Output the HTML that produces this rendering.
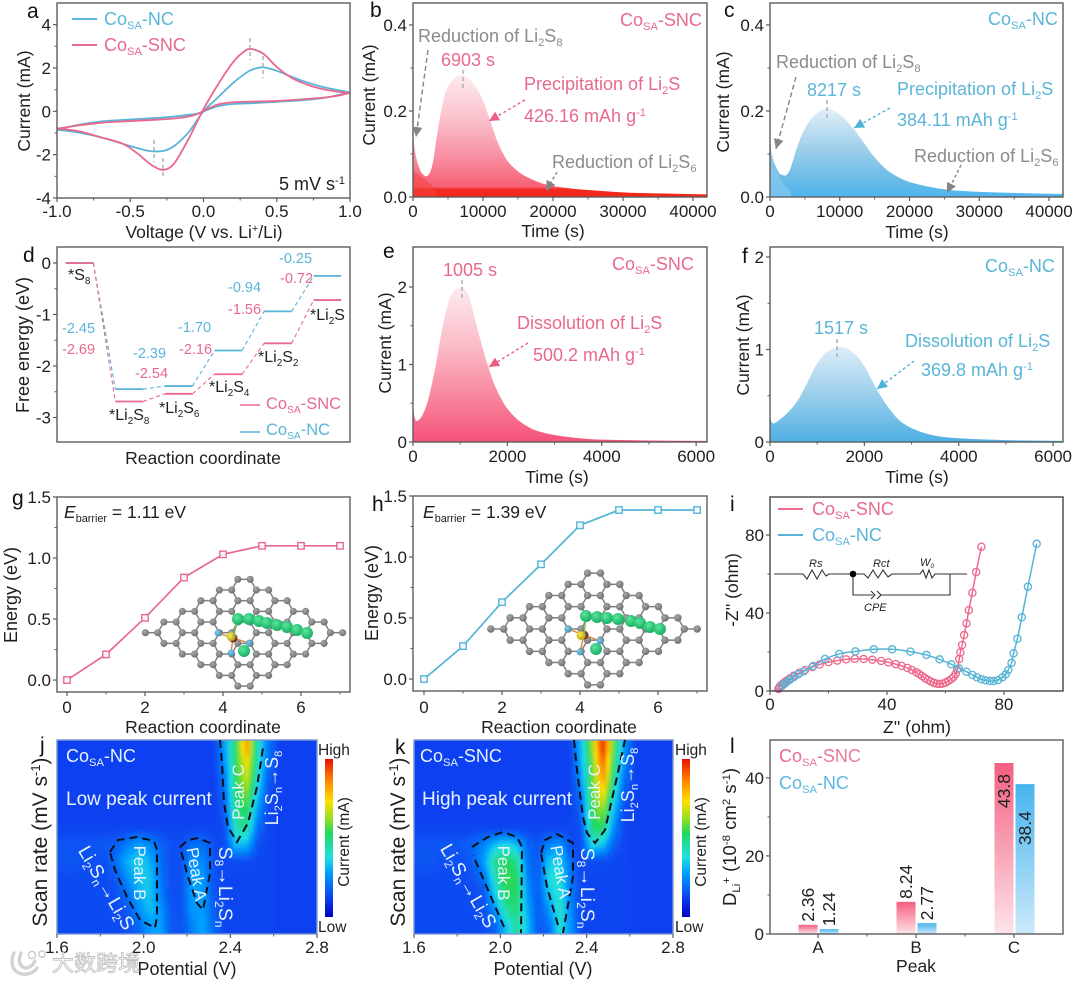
<!DOCTYPE html>
<html lang="en">
<head>
<meta charset="utf-8">
<title>Co single-atom catalysts electrochemistry figure</title>
<style>
html,body{margin:0;padding:0;background:#fff;}
svg{display:block;}
text{font-family:"Liberation Sans","Noto Sans CJK SC",sans-serif;fill:#1f1f1f;}
.sub{font-size:.62em;}
.sup{font-size:.62em;}
.pink{fill:#e8698c;}
.blue{fill:#5ab5d8;}
.grey{fill:#8b8b8b;}
.white{fill:#e6f2ff;}
.letter{font-size:21px;fill:#111;}
.title{font-size:17.5px;}
.val{font-size:14.5px;}
.spec{font-size:16px;fill:#222;}
</style>
</head>
<body>
<svg id="fig" width="1080" height="981" viewBox="0 0 1080 981" xmlns="http://www.w3.org/2000/svg">
<defs>
  <marker id="headGrey" markerUnits="userSpaceOnUse" markerWidth="12" markerHeight="12" refX="10" refY="5" orient="auto"><path d="M0,0L10,5L0,10Z" fill="#858585"/></marker>
  <marker id="headPink" markerUnits="userSpaceOnUse" markerWidth="12" markerHeight="12" refX="10" refY="5" orient="auto"><path d="M0,0L10,5L0,10Z" fill="#ea5f84"/></marker>
  <marker id="headBlue" markerUnits="userSpaceOnUse" markerWidth="12" markerHeight="12" refX="10" refY="5" orient="auto"><path d="M0,0L10,5L0,10Z" fill="#4fb3d6"/></marker>
  <linearGradient id="gradB" gradientUnits="userSpaceOnUse" x1="0" y1="74" x2="0" y2="197">
    <stop offset="0" stop-color="#fdecef"/><stop offset=".35" stop-color="#fbc3ce"/><stop offset=".7" stop-color="#f88a9e"/><stop offset=".92" stop-color="#f65f73"/><stop offset=".935" stop-color="#f32a1e"/><stop offset="1" stop-color="#f4261a"/>
  </linearGradient>
  <linearGradient id="gradC" gradientUnits="userSpaceOnUse" x1="0" y1="108" x2="0" y2="197">
    <stop offset="0" stop-color="#e3f1f8"/><stop offset=".4" stop-color="#a6d3ec"/><stop offset=".8" stop-color="#6bbbe6"/><stop offset="1" stop-color="#4fb5f0"/>
  </linearGradient>
  <linearGradient id="gradE" gradientUnits="userSpaceOnUse" x1="0" y1="287" x2="0" y2="442">
    <stop offset="0" stop-color="#fcebee"/><stop offset=".4" stop-color="#fbb9c6"/><stop offset=".75" stop-color="#f77f98"/><stop offset="1" stop-color="#f6527a"/>
  </linearGradient>
  <linearGradient id="gradF" gradientUnits="userSpaceOnUse" x1="0" y1="347" x2="0" y2="442">
    <stop offset="0" stop-color="#dceef8"/><stop offset=".45" stop-color="#a2d2ec"/><stop offset="1" stop-color="#4fb0e4"/>
  </linearGradient>
  <linearGradient id="barPink" x1="0" y1="0" x2="0" y2="1"><stop offset="0" stop-color="#f45f80"/><stop offset="1" stop-color="#fde4e9"/></linearGradient>
  <linearGradient id="barBlue" x1="0" y1="0" x2="0" y2="1"><stop offset="0" stop-color="#48b4ef"/><stop offset="1" stop-color="#cbe9fa"/></linearGradient>
  <linearGradient id="legendPink" x1="0" y1="0" x2="1" y2="1"><stop offset="0" stop-color="#ee5f83"/><stop offset="1" stop-color="#e98aa4"/></linearGradient>
  <linearGradient id="jet" x1="0" y1="0" x2="0" y2="1">
    <stop offset="0" stop-color="#e81000"/><stop offset=".13" stop-color="#ff8000"/><stop offset=".27" stop-color="#ffe000"/><stop offset=".38" stop-color="#90e020"/><stop offset=".47" stop-color="#20d860"/><stop offset=".62" stop-color="#20e0e0"/><stop offset=".72" stop-color="#00a0ff"/><stop offset=".88" stop-color="#0a40f0"/><stop offset="1" stop-color="#0000c0"/>
  </linearGradient>
  <radialGradient id="atomGrey" cx=".38" cy=".35" r=".75"><stop offset="0" stop-color="#a8a8a8"/><stop offset="1" stop-color="#676767"/></radialGradient>
  <radialGradient id="atomGreen" cx=".38" cy=".35" r=".75"><stop offset="0" stop-color="#5ae79a"/><stop offset="1" stop-color="#0fa65e"/></radialGradient>
  <radialGradient id="atomBlue" cx=".38" cy=".35" r=".75"><stop offset="0" stop-color="#86c6e6"/><stop offset="1" stop-color="#3d8fb8"/></radialGradient>
  <radialGradient id="atomYellow" cx=".38" cy=".35" r=".75"><stop offset="0" stop-color="#f5ea4a"/><stop offset="1" stop-color="#b8a010"/></radialGradient>
  <radialGradient id="atomCo" cx=".38" cy=".35" r=".75"><stop offset="0" stop-color="#b8603a"/><stop offset="1" stop-color="#6e2a18"/></radialGradient>
  <filter id="heatBlur" filterUnits="userSpaceOnUse" x="0" y="700" width="1080" height="281"><feGaussianBlur stdDeviation="1.6"/></filter>
  <clipPath id="clipJ"><rect x="57" y="740" width="260" height="194"/></clipPath>
  <clipPath id="clipK"><rect x="414" y="740" width="259" height="194"/></clipPath>
</defs>

<g id="marks"></g>
<g id="axesLayer"></g>

<g>
  <text class="letter" x="27" y="18">a</text>
  <text class="letter" x="370" y="17">b</text>
  <text class="letter" x="724" y="17">c</text>
  <text class="letter" x="23" y="262">d</text>
  <text class="letter" x="383" y="258">e</text>
  <text class="letter" x="742" y="263">f</text>
  <text class="letter" x="12" y="505">g</text>
  <text class="letter" x="372" y="511">h</text>
  <text class="letter" x="730" y="511">i</text>
  <text class="letter" x="40" y="752">j</text>
  <text class="letter" x="395" y="754">k</text>
  <text class="letter" x="730" y="753">l</text>
</g>

<g>
  <text class="title" text-anchor="middle" x="204" y="238">Voltage (V vs. Li<tspan class="sup" dy="-6">+</tspan><tspan dy="6">/Li)</tspan></text>
  <text class="title" text-anchor="middle" transform="rotate(-90 30 101)" x="30" y="101">Current (mA)</text>
  <text class="title" text-anchor="middle" x="553" y="237">Time (s)</text>
  <text class="title" text-anchor="middle" transform="rotate(-90 375 95)" x="375" y="95">Current (mA)</text>
  <text class="title" text-anchor="middle" x="917" y="238">Time (s)</text>
  <text class="title" text-anchor="middle" transform="rotate(-90 729 102)" x="729" y="102">Current (mA)</text>
  <text class="title" text-anchor="middle" x="203" y="464">Reaction coordinate</text>
  <text class="title" text-anchor="middle" font-size="18" style="font-size:18px" transform="rotate(-90 29 345)" x="29" y="345">Free energy (eV)</text>
  <text class="title" text-anchor="middle" x="557" y="483">Time (s)</text>
  <text class="title" text-anchor="middle" transform="rotate(-90 391 343)" x="391" y="343">Current (mA)</text>
  <text class="title" text-anchor="middle" x="917" y="483">Time (s)</text>
  <text class="title" text-anchor="middle" transform="rotate(-90 749 345)" x="749" y="345">Current (mA)</text>
  <text class="title" text-anchor="middle" x="203" y="733">Reaction coordinate</text>
  <text class="title" text-anchor="middle" style="font-size:18px" transform="rotate(-90 17 595)" x="17" y="595">Energy (eV)</text>
  <text class="title" text-anchor="middle" x="559" y="733">Reaction coordinate</text>
  <text class="title" text-anchor="middle" style="font-size:18px" transform="rotate(-90 378 593)" x="378" y="593">Energy (eV)</text>
  <text class="title" text-anchor="middle" x="917" y="733">Z'' (ohm)</text>
  <text class="title" text-anchor="middle" transform="rotate(-90 738 590)" x="738" y="590">-Z'' (ohm)</text>
  <text class="title" text-anchor="middle" style="font-size:18px" x="187" y="975">Potential (V)</text>
  <text class="title" text-anchor="middle" style="font-size:21px" transform="rotate(-90 47 842)" x="47" y="842">Scan rate (mV s<tspan class="sup" dy="-7">-1</tspan><tspan dy="7">)</tspan></text>
  <text class="title" text-anchor="middle" style="font-size:18px" x="543" y="975">Potential (V)</text>
  <text class="title" text-anchor="middle" style="font-size:21px" transform="rotate(-90 405 842)" x="405" y="842">Scan rate (mV s<tspan class="sup" dy="-7">-1</tspan><tspan dy="7">)</tspan></text>
  <text class="title" text-anchor="middle" x="916" y="972">Peak</text>
  <text class="title" text-anchor="middle" style="font-size:18.5px" transform="rotate(-90 736 837)" x="736" y="837">D<tspan class="sub" dy="4">Li</tspan><tspan class="sup" dy="-10">+</tspan><tspan dy="6"> (10</tspan><tspan class="sup" dy="-6">-8</tspan><tspan dy="6"> cm</tspan><tspan class="sup" dy="-6">2</tspan><tspan dy="6"> s</tspan><tspan class="sup" dy="-6">-1</tspan><tspan dy="6">)</tspan></text>
</g>

<!-- panel a annotations -->
<g>
  <line x1="72" y1="19" x2="97" y2="19" stroke="#58b4d8" stroke-width="2"/>
  <text x="104" y="25" font-size="18" class="blue">Co<tspan class="sub" dy="4">SA</tspan><tspan dy="-4">-NC</tspan></text>
  <line x1="72" y1="45" x2="97" y2="45" stroke="#e8698c" stroke-width="2"/>
  <text x="104" y="51" font-size="18" class="pink">Co<tspan class="sub" dy="4">SA</tspan><tspan dy="-4">-SNC</tspan></text>
  <text x="279" y="190" font-size="18">5 mV s<tspan class="sup" dy="-6">-1</tspan></text>
  <g stroke="#ababab" stroke-width="1.4" stroke-dasharray="4 3" fill="none">
    <line x1="250" y1="38" x2="250" y2="60"/>
    <line x1="263" y1="56" x2="263" y2="78"/>
    <line x1="154" y1="140" x2="154" y2="162"/>
    <line x1="163" y1="158" x2="163" y2="178"/>
  </g>
</g>

<!-- panel b annotations -->
<g>
  <text x="620" y="26" font-size="18" class="pink">Co<tspan class="sub" dy="4">SA</tspan><tspan dy="-4">-SNC</tspan></text>
  <text x="418" y="42" font-size="18" class="grey">Reduction of Li<tspan class="sub" dy="4">2</tspan><tspan dy="-4">S</tspan><tspan class="sub" dy="4">8</tspan></text>
  <text x="441" y="66" font-size="18" class="pink">6903 s</text>
  <text x="524" y="90" font-size="18" class="pink">Precipitation of Li<tspan class="sub" dy="4">2</tspan><tspan dy="-4">S</tspan></text>
  <text x="524" y="122" font-size="18" class="pink">426.16 mAh g<tspan class="sup" dy="-6">-1</tspan></text>
  <text x="552" y="168" font-size="18" class="grey">Reduction of Li<tspan class="sub" dy="4">2</tspan><tspan dy="-4">S</tspan><tspan class="sub" dy="4">6</tspan></text>
  <line x1="428" y1="50" x2="416" y2="137" stroke="#858585" stroke-width="1.4" stroke-dasharray="5 3" marker-end="url(#headGrey)"/>
  <line x1="525" y1="100" x2="489" y2="121" stroke="#ea5f84" stroke-width="1.4" stroke-dasharray="3 2.5" marker-end="url(#headPink)"/>
  <line x1="557" y1="172" x2="546" y2="191" stroke="#858585" stroke-width="1.4" stroke-dasharray="3 2.5" marker-end="url(#headGrey)"/>
  <line x1="463" y1="70" x2="463" y2="90" stroke="#ababab" stroke-width="1.4" stroke-dasharray="4 3"/>
</g>

<!-- panel c annotations -->
<g>
  <text x="988" y="25" font-size="18" class="blue">Co<tspan class="sub" dy="4">SA</tspan><tspan dy="-4">-NC</tspan></text>
  <text x="776" y="68" font-size="18" class="grey">Reduction of Li<tspan class="sub" dy="4">2</tspan><tspan dy="-4">S</tspan><tspan class="sub" dy="4">8</tspan></text>
  <text x="807" y="96" font-size="18" class="blue">8217 s</text>
  <text x="897" y="95" font-size="18" class="blue">Precipitation of Li<tspan class="sub" dy="4">2</tspan><tspan dy="-4">S</tspan></text>
  <text x="897" y="126" font-size="18" class="blue">384.11 mAh g<tspan class="sup" dy="-6">-1</tspan></text>
  <text x="914" y="162" font-size="18" class="grey">Reduction of Li<tspan class="sub" dy="4">2</tspan><tspan dy="-4">S</tspan><tspan class="sub" dy="4">6</tspan></text>
  <line x1="796" y1="77" x2="776" y2="149" stroke="#858585" stroke-width="1.4" stroke-dasharray="5 3" marker-end="url(#headGrey)"/>
  <line x1="890" y1="108" x2="854" y2="128" stroke="#4fb3d6" stroke-width="1.4" stroke-dasharray="3 2.5" marker-end="url(#headBlue)"/>
  <line x1="961" y1="165" x2="947" y2="193" stroke="#858585" stroke-width="1.4" stroke-dasharray="3 2.5" marker-end="url(#headGrey)"/>
  <line x1="827" y1="100" x2="827" y2="120" stroke="#ababab" stroke-width="1.4" stroke-dasharray="4 3"/>
</g>

<!-- panel d annotations -->
<g>
  <text x="62" y="333" class="blue" font-size="14.5">-2.45</text>
  <text x="62" y="354" class="pink" font-size="14.5">-2.69</text>
  <text x="133" y="358" class="blue" font-size="14.5">-2.39</text>
  <text x="135" y="378" class="pink" font-size="14.5">-2.54</text>
  <text x="178" y="332" class="blue" font-size="14.5">-1.70</text>
  <text x="179" y="354" class="pink" font-size="14.5">-2.16</text>
  <text x="228" y="292" class="blue" font-size="14.5">-0.94</text>
  <text x="228" y="314" class="pink" font-size="14.5">-1.56</text>
  <text x="279" y="263" class="blue" font-size="14.5">-0.25</text>
  <text x="280" y="283" class="pink" font-size="14.5">-0.72</text>
  <text x="68" y="280" class="spec">*S<tspan class="sub" dy="4">8</tspan></text>
  <text x="109" y="420" class="spec">*Li<tspan class="sub" dy="4">2</tspan><tspan dy="-4">S</tspan><tspan class="sub" dy="4">8</tspan></text>
  <text x="159" y="413" class="spec">*Li<tspan class="sub" dy="4">2</tspan><tspan dy="-4">S</tspan><tspan class="sub" dy="4">6</tspan></text>
  <text x="209" y="392" class="spec">*Li<tspan class="sub" dy="4">2</tspan><tspan dy="-4">S</tspan><tspan class="sub" dy="4">4</tspan></text>
  <text x="258" y="362" class="spec">*Li<tspan class="sub" dy="4">2</tspan><tspan dy="-4">S</tspan><tspan class="sub" dy="4">2</tspan></text>
  <text x="310" y="320" class="spec">*Li<tspan class="sub" dy="4">2</tspan><tspan dy="-4">S</tspan></text>
  <line x1="240" y1="405" x2="260" y2="405" stroke="#e8698c" stroke-width="1.6"/>
  <text x="266" y="409" font-size="16.5" class="pink">Co<tspan class="sub" dy="4">SA</tspan><tspan dy="-4">-SNC</tspan></text>
  <line x1="240" y1="432" x2="260" y2="432" stroke="#58b4d8" stroke-width="1.6"/>
  <text x="266" y="435" font-size="16.5" class="blue">Co<tspan class="sub" dy="4">SA</tspan><tspan dy="-4">-NC</tspan></text>
</g>

<!-- panel e annotations -->
<g>
  <text x="612" y="270" font-size="18" class="pink">Co<tspan class="sub" dy="4">SA</tspan><tspan dy="-4">-SNC</tspan></text>
  <text x="443" y="276" font-size="18" class="pink">1005 s</text>
  <text x="517" y="329" font-size="18" class="pink">Dissolution of Li<tspan class="sub" dy="4">2</tspan><tspan dy="-4">S</tspan></text>
  <text x="533" y="361" font-size="18" class="pink">500.2 mAh g<tspan class="sup" dy="-6">-1</tspan></text>
  <line x1="528" y1="343" x2="489" y2="367" stroke="#ea5f84" stroke-width="1.4" stroke-dasharray="3 2.5" marker-end="url(#headPink)"/>
  <line x1="462" y1="280" x2="462" y2="300" stroke="#ababab" stroke-width="1.4" stroke-dasharray="4 3"/>
</g>

<!-- panel f annotations -->
<g>
  <text x="985" y="272" font-size="18" class="blue">Co<tspan class="sub" dy="4">SA</tspan><tspan dy="-4">-NC</tspan></text>
  <text x="814" y="334" font-size="18" class="blue">1517 s</text>
  <text x="905" y="347" font-size="18" class="blue">Dissolution of Li<tspan class="sub" dy="4">2</tspan><tspan dy="-4">S</tspan></text>
  <text x="921" y="376" font-size="18" class="blue">369.8 mAh g<tspan class="sup" dy="-6">-1</tspan></text>
  <line x1="914" y1="361" x2="877" y2="389" stroke="#4fb3d6" stroke-width="1.4" stroke-dasharray="3 2.5" marker-end="url(#headBlue)"/>
  <line x1="837" y1="339" x2="837" y2="359" stroke="#ababab" stroke-width="1.4" stroke-dasharray="4 3"/>
</g>

<!-- panel g h labels -->
<text x="64" y="518" font-size="17.5"><tspan font-style="italic">E</tspan><tspan class="sub" dy="4">barrier</tspan><tspan dy="-4"> = 1.11 eV</tspan></text>
<text x="423" y="518" font-size="17.5"><tspan font-style="italic">E</tspan><tspan class="sub" dy="4">barrier</tspan><tspan dy="-4"> = 1.39 eV</tspan></text>

<!-- panel i annotations -->
<g>
  <line x1="778" y1="509" x2="803" y2="509" stroke="#ee6a8c" stroke-width="2"/>
  <text x="812" y="515" font-size="18" class="pink">Co<tspan class="sub" dy="4">SA</tspan><tspan dy="-4">-SNC</tspan></text>
  <line x1="778" y1="535" x2="803" y2="535" stroke="#55b4d8" stroke-width="2"/>
  <text x="812" y="541" font-size="18" class="blue">Co<tspan class="sub" dy="4">SA</tspan><tspan dy="-4">-NC</tspan></text>
  <g fill="none" stroke="#333" stroke-width="1.1">
    <polyline points="774,574 803,574 807,579 812,570 817,579 822,570 826,576 829,574 864,574"/>
    <polyline points="864,574 868,578 873,570 878,578 883,570 888,577 892,574 920,574"/>
    <polyline points="920,574 923,570 926,578 929,570 932,578 935,574 967,574"/>
    <polyline points="853,574 853,595 873,595"/>
    <polyline points="880,595 950,595 950,574"/>
    <polyline points="871,591 875,595 871,599"/>
    <polyline points="877,591 881,595 877,599"/>
    <circle cx="853" cy="574" r="3.3" fill="#000" stroke="none"/>
  </g>
  <text x="809" y="567" font-size="11" font-style="italic">Rs</text>
  <text x="873" y="567" font-size="11" font-style="italic">Rct</text>
  <text x="920" y="566" font-size="11" font-style="italic">W<tspan class="sub" dy="2">0</tspan></text>
  <text x="864" y="611" font-size="11" font-style="italic">CPE</text>
</g>

<!-- heatmap overlays j -->
<g>
  <text x="66" y="762" font-size="18" class="white">Co<tspan class="sub" dy="4">SA</tspan><tspan dy="-4">-NC</tspan></text>
  <text x="66" y="805" font-size="19" class="white">Low peak current</text>
  <g fill="none" stroke="#0a0f1e" stroke-width="2" stroke-dasharray="8 5">
    <path d="M220,740L222,763L224,803L228,827L237,842L248,823L257,787L263,748"/>
    <path d="M110,852L118,840L137,837L154,841L157,850L157,917L155,928L140,920L127,897L115,870Z"/>
    <path d="M180,847L188,840L198,838L210,843L210,873L203,910L197,903L188,877Z"/>
  </g>
  <text class="white" font-size="17" text-anchor="middle" transform="rotate(-90 244 792)" x="244" y="792">Peak C</text>
  <text class="white" font-size="18" text-anchor="middle" transform="rotate(-90 278 788)" x="278" y="788">Li<tspan class="sub" dy="4">2</tspan><tspan dy="-4">S</tspan><tspan class="sub" dy="4">n</tspan><tspan dy="-4">→S</tspan><tspan class="sub" dy="4">8</tspan></text>
  <text class="white" font-size="17" text-anchor="middle" transform="rotate(90 134 873)" x="134" y="873">Peak B</text>
  <text class="white" font-size="17" text-anchor="middle" transform="rotate(80 191 875)" x="191" y="875">Peak A</text>
  <text class="white" font-size="19" text-anchor="middle" transform="rotate(60 101 891)" x="101" y="891">Li<tspan class="sub" dy="4">2</tspan><tspan dy="-4">S</tspan><tspan class="sub" dy="4">n</tspan><tspan dy="-4">→Li</tspan><tspan class="sub" dy="4">2</tspan><tspan dy="-4">S</tspan></text>
  <text class="white" font-size="19.5" text-anchor="middle" transform="rotate(90 219 887)" x="219" y="887">S<tspan class="sub" dy="4">8</tspan><tspan dy="-4">→Li</tspan><tspan class="sub" dy="4">2</tspan><tspan dy="-4">S</tspan><tspan class="sub" dy="4">n</tspan></text>
  <rect x="325" y="759" width="8" height="158" fill="url(#jet)"/>
  <text x="318" y="755" font-size="15.5">High</text>
  <text x="318" y="932" font-size="15.5">Low</text>
  <text text-anchor="middle" font-size="15.5" transform="rotate(-90 349 842)" x="349" y="842">Current (mA)</text>
</g>

<!-- heatmap overlays k -->
<g>
  <text x="420" y="762" font-size="18" class="white">Co<tspan class="sub" dy="4">SA</tspan><tspan dy="-4">-SNC</tspan></text>
  <text x="422" y="805" font-size="19" class="white">High peak current</text>
  <g fill="none" stroke="#0a0f1e" stroke-width="2" stroke-dasharray="8 5">
    <path d="M574,740L577,770L583,817L587,833L595,843L605,830L617,777L625,740"/>
    <path d="M472,847L488,837L503,832L517,837L522,847L521,933M504,927L488,890L473,855"/>
    <path d="M541,853L545,840L557,834L573,843L573,877L563,933M558,925L547,887L541,853"/>
  </g>
  <text class="white" font-size="17" text-anchor="middle" transform="rotate(-90 600 792)" x="600" y="792">Peak C</text>
  <text class="white" font-size="18" text-anchor="middle" transform="rotate(-90 634 785)" x="634" y="785">Li<tspan class="sub" dy="4">2</tspan><tspan dy="-4">S</tspan><tspan class="sub" dy="4">n</tspan><tspan dy="-4">→S</tspan><tspan class="sub" dy="4">8</tspan></text>
  <text class="white" font-size="17" text-anchor="middle" transform="rotate(90 498 873)" x="498" y="873">Peak B</text>
  <text class="white" font-size="17" text-anchor="middle" transform="rotate(80 555 873)" x="555" y="873">Peak A</text>
  <text class="white" font-size="19" text-anchor="middle" transform="rotate(60 463 889)" x="463" y="889">Li<tspan class="sub" dy="4">2</tspan><tspan dy="-4">S</tspan><tspan class="sub" dy="4">n</tspan><tspan dy="-4">→Li</tspan><tspan class="sub" dy="4">2</tspan><tspan dy="-4">S</tspan></text>
  <text class="white" font-size="19.5" text-anchor="middle" transform="rotate(90 581 888)" x="581" y="888">S<tspan class="sub" dy="4">8</tspan><tspan dy="-4">→Li</tspan><tspan class="sub" dy="4">2</tspan><tspan dy="-4">S</tspan><tspan class="sub" dy="4">n</tspan></text>
  <rect x="682" y="759" width="8" height="158" fill="url(#jet)"/>
  <text x="675" y="755" font-size="15.5">High</text>
  <text x="675" y="932" font-size="15.5">Low</text>
  <text text-anchor="middle" font-size="15.5" transform="rotate(-90 706 842)" x="706" y="842">Current (mA)</text>
</g>

<!-- panel l legend -->
<text x="779" y="762" font-size="18" style="fill:url(#legendPink)">Co<tspan class="sub" dy="4">SA</tspan><tspan dy="-4">-SNC</tspan></text>
<text x="779" y="789" font-size="18" style="fill:#5ab8e2">Co<tspan class="sub" dy="4">SA</tspan><tspan dy="-4">-NC</tspan></text>

<g id="valueLabels"></g>

<!-- watermark -->
<g opacity=".92">
  <path d="M14,953 C10,962 12,972 22,974 C29,975 34,972 37,968 M21,953 C18,960 19,966 25,968 C30,968 33,965 35,961" fill="none" stroke="#cfcfcf" stroke-width="3.4" stroke-linecap="round"/>
  <circle cx="32" cy="955" r="3.6" fill="#fff" stroke="#c4c4c4" stroke-width="1.3"/>
  <circle cx="42" cy="954" r="3.2" fill="#fff" stroke="#c4c4c4" stroke-width="1.3"/>
  <text x="52" y="971" font-size="22" style="fill:#fff;stroke:#bdbdbd;stroke-width:.9;font-family:'Liberation Sans','Noto Sans CJK SC',sans-serif">大数跨境</text>
</g>
</svg>

<script>
/* ---------- chart data ---------- */
const cvVoltageForward = [-1,-0.85,-0.7,-0.55,-0.45,-0.38,-0.33,-0.27,-0.2,-0.1,0,0.1,0.2,0.28,0.33,0.41,0.5,0.6,0.7,0.8,0.9,1];
const cvSncForward = [-0.8,-0.92,-1.2,-1.5,-1.95,-2.35,-2.58,-2.7,-2.4,-1.25,0.1,1.25,2.25,2.78,2.87,2.65,2.05,1.55,1.25,1.05,0.92,0.85];
const cvNcForward = [-0.85,-0.98,-1.2,-1.5,-1.7,-1.82,-1.85,-1.82,-1.6,-0.95,0,0.65,1.3,1.72,1.92,2.03,1.87,1.6,1.35,1.15,1,0.88];
const cvVoltageReturn = [1,0.9,0.8,0.65,0.5,0.35,0.2,0.1,0.04,-0.04,-0.1,-0.2,-0.3,-0.5,-0.7,-0.85,-1];
const cvSncReturn = [0.85,0.7,0.62,0.54,0.48,0.45,0.42,0.32,0.15,-0.12,-0.24,-0.33,-0.38,-0.45,-0.53,-0.65,-0.8];
const cvNcReturn = [0.88,0.72,0.6,0.5,0.44,0.38,0.34,0.24,0.1,-0.1,-0.16,-0.24,-0.3,-0.38,-0.47,-0.62,-0.85];

const precipTimeSnc = [0,150,400,800,1300,1900,2400,2900,3300,3800,4300,4800,5500,6200,6903,7700,8600,9300,10000,11000,12400,13800,16200,19500,23000,27000,31000,36000,42000];
const precipCurrentSnc = [0.158,0.125,0.096,0.072,0.055,0.048,0.056,0.085,0.13,0.18,0.222,0.25,0.27,0.28,0.283,0.278,0.264,0.247,0.225,0.178,0.116,0.078,0.047,0.027,0.019,0.014,0.01,0.008,0.006];
const decayTimeSnc = [0,800,1600,2600,3300];
const decayCurrentSnc = [0.06,0.052,0.042,0.028,0.02];
const precipTimeNc = [0,200,500,1000,1500,2200,2700,3200,3800,4500,5300,6200,7200,8217,9300,10500,12000,13500,15000,17000,20000,25500,30000,36000,42000];
const precipCurrentNc = [0.128,0.105,0.085,0.065,0.053,0.05,0.058,0.08,0.112,0.142,0.168,0.187,0.2,0.206,0.2,0.185,0.158,0.125,0.092,0.06,0.035,0.017,0.012,0.009,0.007];
const decayTimeNc = [0,1000,2000,3000];
const decayCurrentNc = [0.075,0.055,0.03,0.012];

const dissolveTimeSnc = [0,30,70,150,300,400,500,600,700,800,900,1005,1150,1250,1400,1500,1600,1700,1800,2000,2300,2600,3000,3500,4000,5000,6230];
const dissolveCurrentSnc = [0.5,0.33,0.27,0.3,0.5,0.75,1.05,1.4,1.68,1.88,1.97,2,1.93,1.74,1.38,1.16,0.96,0.78,0.64,0.43,0.25,0.15,0.09,0.05,0.03,0.02,0.015];
const dissolveTimeNc = [0,30,70,200,400,600,800,1000,1200,1400,1517,1800,2000,2260,2500,2800,3200,3600,4000,5000,6210];
const dissolveCurrentNc = [0.28,0.22,0.2,0.24,0.33,0.46,0.65,0.85,0.97,1.02,1.03,0.95,0.82,0.57,0.38,0.21,0.11,0.06,0.04,0.02,0.012];

const energyStepsSnc = [0,-2.69,-2.54,-2.16,-1.56,-0.72];
const energyStepsNc = [0,-2.45,-2.39,-1.70,-0.94,-0.25];

const barrierCoordinate = [0,1,2,3,4,5,6,7];
const barrierEnergySnc = [0,0.21,0.51,0.84,1.03,1.10,1.10,1.10];
const barrierEnergyNc = [0,0.27,0.63,0.94,1.26,1.385,1.385,1.385];

const nyquistReSnc = [2.9,3.0,3.3,3.8,4.5,5.5,6.8,8.2,10,12,14.5,17,20,23,26,29,32,35,38,40.5,43,45,47,48.5,50,51,52,53,54,55,56,57,58,59,60,61,62,62.8,63.5,64,64.7,65.1,65.7,66.4,67.2,68,69.2,70.5,72.3];
const nyquistImSnc = [1,1.5,2.2,3,4,5.2,6.5,7.9,9.3,10.8,12.3,13.6,14.8,15.6,16.2,16.5,16.4,16,15.4,14.7,13.8,12.9,11.8,10.8,9.6,8.7,7.7,6.6,5.7,4.9,4.2,3.8,3.6,3.8,4.3,5.1,6.1,7.2,8.8,11,16.4,19.8,23.6,28.7,34.7,41.5,50.4,61,74];
const nyquistReNc = [4,4.8,5.7,6.8,8.2,9.6,11.5,14.8,18.8,23.7,29.2,35.5,41.8,48,53.5,58,62,64.6,67.2,69.2,70.8,72.3,73.7,75.2,76.5,78,79.5,80.6,81.5,82.6,83.3,84.6,86.1,88.2,91.2];
const nyquistImNc = [2.5,3.5,4.6,5.8,7.2,8.5,10,12.8,16.4,19,20.3,21.4,21.4,20.2,18.5,16.2,13.7,11.6,9.9,8.2,7,6,5.5,5.1,5.1,5.6,7,8.5,10.8,14.4,19.3,26.8,37.8,53.5,75.5];

const heatmapColumnStart = 1.6;
const heatmapColumnStep = 0.05;
const heatmapJ = [
 [.12,.12,.12,.12,.12,.12,.12,.12,.12,.12,.12,.12,.12,.12,.12,.30,.55,.85,.45,.22,.12,.12,.12,.12],
 [.12,.12,.12,.12,.12,.12,.12,.12,.12,.12,.12,.12,.12,.12,.12,.27,.55,.75,.45,.20,.12,.12,.12,.12],
 [.12,.12,.12,.12,.12,.12,.12,.12,.12,.12,.12,.12,.12,.12,.12,.22,.55,.70,.42,.17,.12,.12,.12,.12],
 [.12,.12,.12,.12,.12,.12,.12,.12,.12,.12,.12,.12,.12,.12,.12,.20,.52,.62,.35,.14,.12,.12,.12,.12],
 [.12,.12,.12,.12,.12,.12,.12,.12,.12,.12,.12,.12,.12,.12,.12,.17,.50,.55,.28,.13,.12,.12,.12,.12],
 [.13,.13,.13,.13,.13,.13,.13,.13,.13,.13,.13,.13,.13,.13,.13,.14,.45,.48,.20,.13,.12,.12,.12,.12],
 [.16,.16,.16,.16,.17,.18,.24,.30,.27,.19,.15,.15,.21,.21,.15,.14,.35,.33,.15,.13,.12,.12,.12,.12],
 [.16,.16,.15,.15,.15,.22,.33,.38,.33,.21,.15,.15,.29,.25,.15,.13,.14,.14,.13,.13,.12,.12,.12,.12],
 [.14,.14,.14,.14,.14,.17,.27,.36,.37,.23,.15,.15,.31,.28,.15,.13,.13,.13,.13,.13,.12,.12,.12,.12],
 [.14,.14,.14,.14,.14,.15,.21,.31,.37,.25,.15,.15,.31,.29,.16,.13,.13,.13,.13,.13,.12,.12,.12,.12],
 [.14,.14,.14,.14,.14,.14,.16,.26,.35,.29,.16,.15,.29,.29,.17,.13,.13,.13,.13,.13,.12,.12,.12,.12],
 [.14,.14,.14,.14,.14,.14,.15,.19,.29,.31,.17,.15,.25,.31,.19,.13,.13,.13,.13,.13,.12,.12,.12,.12]
];
const heatmapK = [
 [.12,.12,.12,.12,.12,.12,.12,.12,.12,.12,.12,.12,.12,.12,.12,.35,.65,1.0,.60,.28,.12,.12,.12,.12],
 [.12,.12,.12,.12,.12,.12,.12,.12,.12,.12,.12,.12,.12,.12,.12,.32,.60,.92,.55,.25,.12,.12,.12,.12],
 [.12,.12,.12,.12,.12,.12,.12,.12,.12,.12,.12,.12,.12,.12,.12,.28,.60,.85,.50,.20,.12,.12,.12,.12],
 [.12,.12,.12,.12,.12,.12,.12,.12,.12,.12,.12,.12,.12,.12,.12,.22,.58,.75,.42,.16,.12,.12,.12,.12],
 [.12,.12,.12,.12,.12,.12,.12,.12,.12,.12,.12,.12,.12,.12,.12,.18,.55,.65,.33,.13,.12,.12,.12,.12],
 [.13,.13,.13,.13,.13,.13,.13,.13,.13,.13,.13,.13,.13,.13,.13,.15,.52,.55,.25,.13,.12,.12,.12,.12],
 [.16,.16,.16,.16,.17,.19,.25,.35,.40,.35,.20,.15,.25,.28,.15,.14,.40,.35,.18,.13,.12,.12,.12,.12],
 [.16,.16,.15,.15,.15,.18,.30,.50,.56,.50,.22,.16,.36,.38,.20,.13,.14,.14,.13,.13,.12,.12,.12,.12],
 [.14,.14,.14,.14,.14,.15,.22,.45,.58,.55,.25,.16,.40,.42,.22,.13,.13,.13,.13,.13,.12,.12,.12,.12],
 [.14,.14,.14,.14,.14,.14,.16,.38,.55,.55,.28,.16,.36,.42,.24,.13,.13,.13,.13,.13,.12,.12,.12,.12],
 [.14,.14,.14,.14,.14,.14,.15,.27,.48,.52,.32,.16,.28,.44,.26,.13,.13,.13,.13,.13,.12,.12,.12,.12],
 [.14,.14,.14,.14,.14,.14,.14,.18,.35,.48,.35,.16,.20,.42,.28,.13,.13,.13,.13,.13,.12,.12,.12,.12]
];
const colormapValues = [0,.12,.30,.40,.55,.65,.75,.87,1];
const colormapReds = [0,10,0,32,32,144,255,255,232];
const colormapGreens = [0,64,160,224,216,224,224,128,16];
const colormapBlues = [192,240,255,224,96,32,0,0,0];

const peakCategories = ['A','B','C'];
const diffusionSnc = [2.36,8.24,43.8];
const diffusionNc = [1.24,2.77,38.4];
const diffusionSncLabels = ['2.36','8.24','43.8'];
const diffusionNcLabels = ['1.24','2.77','38.4'];

/* tick arrays */
const aXTicks = [-1,-0.5,0,0.5,1], aXLabels = ['-1.0','-0.5','0.0','0.5','1.0'], aYTicks = [4,2,0,-2,-4], aYLabels = ['4','2','0','-2','-4'];
const bXTicks = [0,10000,20000,30000,40000], bXLabels = ['0','10000','20000','30000','40000'], bYTicks = [0,0.2,0.4], bYLabels = ['0.0','0.2','0.4'];
const dYTicks = [0,-1,-2,-3], dYLabels = ['0','-1','-2','-3'];
const eXTicks = [0,2000,4000,6000], eXLabels = ['0','2000','4000','6000'], eYTicks = [0,1,2], eYLabels = ['0','1','2'];
const gXTicks = [0,2,4,6], gXLabels = ['0','2','4','6'], gYTicks = [0,0.5,1,1.5], gYLabels = ['0.0','0.5','1.0','1.5'];
const iTicks = [0,40,80], iLabels = ['0','40','80'];
const jXTicks = [1.6,2,2.4,2.8], jXLabels = ['1.6','2.0','2.4','2.8'];
const lYTicks = [0,20,40], lYLabels = ['0','20','40'];

/* ---------- helpers ---------- */
const NS = 'http://www.w3.org/2000/svg';
const marksLayer = document.getElementById('marks');
const axesLayer = document.getElementById('axesLayer');
function svgEl(tag, attrs, parent){
  const e = document.createElementNS(NS, tag);
  for (const k in attrs) e.setAttribute(k, attrs[k]);
  (parent || marksLayer).appendChild(e);
  return e;
}
function scales(box, xr, yr){
  return {
    sx: v => box[0] + (v - xr[0]) / (xr[1] - xr[0]) * (box[2] - box[0]),
    sy: v => box[3] - (v - yr[0]) / (yr[1] - yr[0]) * (box[3] - box[1])
  };
}
function smoothPath(pts){
  let d = 'M' + pts[0][0].toFixed(2) + ',' + pts[0][1].toFixed(2);
  for (let i = 0; i < pts.length - 1; i++){
    const p0 = pts[i-1] || pts[i], p1 = pts[i], p2 = pts[i+1], p3 = pts[i+2] || p2;
    const c1x = p1[0] + (p2[0]-p0[0])/6, c1y = p1[1] + (p2[1]-p0[1])/6;
    const c2x = p2[0] - (p3[0]-p1[0])/6, c2y = p2[1] - (p3[1]-p1[1])/6;
    d += 'C' + c1x.toFixed(2) + ',' + c1y.toFixed(2) + ' ' + c2x.toFixed(2) + ',' + c2y.toFixed(2) + ' ' + p2[0].toFixed(2) + ',' + p2[1].toFixed(2);
  }
  return d;
}
function monotonePath(pts){
  const n = pts.length, slopes = [], tang = [];
  for (let i = 0; i < n-1; i++) slopes.push((pts[i+1][1]-pts[i][1]) / (pts[i+1][0]-pts[i][0]));
  tang.push(slopes[0]);
  for (let i = 1; i < n-1; i++){
    const a = slopes[i-1], b = slopes[i];
    tang.push(a*b <= 0 ? 0 : 2*a*b/(a+b));
  }
  tang.push(slopes[n-2]);
  let d = 'M' + pts[0][0].toFixed(2) + ',' + pts[0][1].toFixed(2);
  for (let i = 0; i < n-1; i++){
    const h = (pts[i+1][0]-pts[i][0])/3;
    d += 'C' + (pts[i][0]+h).toFixed(2) + ',' + (pts[i][1]+h*tang[i]).toFixed(2) + ' ' + (pts[i+1][0]-h).toFixed(2) + ',' + (pts[i+1][1]-h*tang[i+1]).toFixed(2) + ' ' + pts[i+1][0].toFixed(2) + ',' + pts[i+1][1].toFixed(2);
  }
  return d;
}
function points(xs, ys, s){ return xs.map((x,i) => [s.sx(x), s.sy(ys[i])]); }

function drawAxes(panel, box, s, xTicks, xLabels, yTicks, yLabels, xMinor, yMinor, xLabelY, frameColor){
  const frame = svgEl('rect', {x:box[0], y:box[1], width:box[2]-box[0], height:box[3]-box[1], fill:'none', stroke:frameColor || '#5c5c5c', 'stroke-width':1.4}, axesLayer);
  
  
  xTicks.forEach((v,i) => {
    const t = svgEl('line', {x1:s.sx(v), x2:s.sx(v), y1:box[3], y2:box[3]+4, stroke:'#5c5c5c', 'stroke-width':1.2}, axesLayer);
    
    
    const l = svgEl('text', {x:s.sx(v), y:xLabelY, 'text-anchor':'middle', 'font-size':17}, axesLayer);
    l.textContent = xLabels[i];
    
    
  });
  xMinor.forEach(v => {
    const t = svgEl('line', {x1:s.sx(v), x2:s.sx(v), y1:box[3], y2:box[3]+2.5, stroke:'#5c5c5c', 'stroke-width':1}, axesLayer);
    
    
  });
  yTicks.forEach((v,i) => {
    const t = svgEl('line', {x1:box[0]-4, x2:box[0], y1:s.sy(v), y2:s.sy(v), stroke:'#5c5c5c', 'stroke-width':1.2}, axesLayer);
    
    
    const l = svgEl('text', {x:box[0]-6, y:s.sy(v)+6, 'text-anchor':'end', 'font-size':17}, axesLayer);
    l.textContent = yLabels[i];
    
    
  });
  yMinor.forEach(v => {
    const t = svgEl('line', {x1:box[0]-2.5, x2:box[0], y1:s.sy(v), y2:s.sy(v), stroke:'#5c5c5c', 'stroke-width':1}, axesLayer);
    
    
  });
}

/* ---------- panel a ---------- */
const boxA = [57,3,350,198];
const sA = scales(boxA, [-1,1], [-4,5]);
[[cvVoltageReturn,cvNcReturn,'#58b4d8','cv-nc-return'],[cvVoltageForward,cvNcForward,'#58b4d8','cv-nc-forward'],[cvVoltageReturn,cvSncReturn,'#e8698c','cv-snc-return'],[cvVoltageForward,cvSncForward,'#e8698c','cv-snc-forward']].forEach(c => {
  const p = svgEl('path', {d:smoothPath(points(c[0],c[1],sA)), fill:'none', stroke:c[2], 'stroke-width':1.8});
  
  
});
drawAxes('panel-a', boxA, sA, aXTicks, aXLabels, aYTicks, aYLabels, [-0.75,-0.25,0.25,0.75], [3,1,-1,-3], 217);

/* ---------- area panels b c e f ---------- */
function drawArea(panel, box, xr, yr, ts, vs, fill, opacity){
  const s = scales(box, xr, yr);
  const pts = points(ts, vs, s);
  const p = svgEl('path', {d:monotonePath(pts) + 'L' + pts[pts.length-1][0] + ',' + box[3] + 'L' + pts[0][0] + ',' + box[3] + 'Z', fill:fill, 'fill-opacity':opacity});
  
  
  return s;
}
const boxB = [413,3,707,197];
const sB = drawArea('panel-b', boxB, [0,42000], [0,0.451], precipTimeSnc, precipCurrentSnc, 'url(#gradB)', 1);
drawArea('panel-b-decay', boxB, [0,42000], [0,0.451], decayTimeSnc, decayCurrentSnc, '#f2423c', 0.55);
drawAxes('panel-b', boxB, sB, bXTicks, bXLabels, bYTicks, bYLabels, [5000,15000,25000,35000], [0.1,0.3], 217);
const boxC = [770,3,1063,197];
const sC = drawArea('panel-c', boxC, [0,42000], [0,0.451], precipTimeNc, precipCurrentNc, 'url(#gradC)', 1);
drawArea('panel-c-decay', boxC, [0,42000], [0,0.451], decayTimeNc, decayCurrentNc, '#8fcdf0', 0.55);
drawAxes('panel-c', boxC, sC, bXTicks, bXLabels, bYTicks, bYLabels, [5000,15000,25000,35000], [0.1,0.3], 217);
const boxE = [413,247,707,442];
const sE = drawArea('panel-e', boxE, [0,6230], [0,2.516], dissolveTimeSnc, dissolveCurrentSnc, 'url(#gradE)', 1);
drawAxes('panel-e', boxE, sE, eXTicks, eXLabels, eYTicks, eYLabels, [1000,3000,5000], [0.5,1.5], 462);
const boxF = [770,247,1063,442];
const sF = drawArea('panel-f', boxF, [0,6210], [0,2.108], dissolveTimeNc, dissolveCurrentNc, 'url(#gradF)', 1);
drawAxes('panel-f', boxF, sF, eXTicks, eXLabels, eYTicks, eYLabels, [1000,3000,5000], [0.5,1.5], 462);

/* ---------- panel d ---------- */
const boxD = [57,247,350,442];
const stepIndexRange = [-0.455,5.455];
const sD = scales(boxD, stepIndexRange, [-3.476,0.31]);
function drawSteps(values, color, label){
  const half = 0.278;
  values.forEach((v,i) => {
    const seg = svgEl('line', {x1:sD.sx(i-half), x2:sD.sx(i+half), y1:sD.sy(v), y2:sD.sy(v), stroke:color, 'stroke-width':1.8});
    
    
    if (i < values.length - 1){
      const link = svgEl('line', {x1:sD.sx(i+half), x2:sD.sx(i+1-half), y1:sD.sy(v), y2:sD.sy(values[i+1]), stroke:color, 'stroke-width':1.1, 'stroke-dasharray':'4 3'});
      
      
    }
  });
}
drawSteps(energyStepsNc, '#58b4d8', 'nc');
drawSteps(energyStepsSnc, '#e8698c', 'snc');
drawAxes('panel-d', boxD, sD, [], [], dYTicks, dYLabels, [], [-0.5,-1.5,-2.5], 0);

/* ---------- molecule inset ---------- */
function drawMolecule(name, cx, cy, a, greens, bigGreen, nitrogens, co, sulfur){
  const g = svgEl('g', {});
  
  
  const atoms = [];
  const oddRow = [0.5,2.5,3.5,5.5,6.5,8.5];
  const evenRow = [1,2,4,5,7,8];
  for (let k = -5; k <= 5; k++){
    const d = Math.abs(k), maxX = 8 - 1.5*d, list = d % 2 ? oddRow : evenRow;
    list.forEach(u => {
      if (u <= maxX + 0.01){
        atoms.push([cx + u*a, cy + k*a*0.866]);
        atoms.push([cx - u*a, cy + k*a*0.866]);
      }
    });
  }
  for (let i = 0; i < atoms.length; i++){
    for (let j = i+1; j < atoms.length; j++){
      const dx = atoms[i][0]-atoms[j][0], dy = atoms[i][1]-atoms[j][1];
      if (dx*dx + dy*dy < a*a*1.1){
        const b = svgEl('line', {x1:atoms[i][0], y1:atoms[i][1], x2:atoms[j][0], y2:atoms[j][1], stroke:'#808080', 'stroke-width':1.5}, g);
        
        
      }
    }
  }
  atoms.forEach(p => {
    const c = svgEl('circle', {cx:p[0], cy:p[1], r:a*0.29, fill:'url(#atomGrey)'}, g);
    
    
  });
  nitrogens.forEach(p => {
    const l = svgEl('line', {x1:co[0], y1:co[1], x2:p[0], y2:p[1], stroke:'#d08a40', 'stroke-width':1.4}, g);
    
    
    const c = svgEl('circle', {cx:p[0], cy:p[1], r:3.4, fill:'url(#atomBlue)'}, g);
    
    
  });
  const cA = svgEl('circle', {cx:co[0], cy:co[1], r:4.5, fill:'url(#atomCo)'}, g);
  
  
  const sA2 = svgEl('circle', {cx:sulfur[0], cy:sulfur[1], r:4.5, fill:'url(#atomYellow)'}, g);
  
  
  const link = svgEl('line', {x1:co[0], y1:co[1], x2:greens[0][0], y2:greens[0][1], stroke:'#80c060', 'stroke-width':1.6}, g);
  
  
  const big = svgEl('circle', {cx:bigGreen[0], cy:bigGreen[1], r:6, fill:'url(#atomGreen)'}, g);
  
  
  greens.forEach(p => {
    const c = svgEl('circle', {cx:p[0], cy:p[1], r:6, fill:'url(#atomGreen)'}, g);
    
    
  });
}

/* ---------- panels g h ---------- */
function drawBarrier(panel, box, xr, yr, values, color){
  const s = scales(box, xr, yr);
  const pts = points(barrierCoordinate, values, s);
  const line = svgEl('polyline', {points:pts.map(p => p.join(',')).join(' '), fill:'none', stroke:color, 'stroke-width':1.7});
  
  
  return {s, pts};
}
function drawSquares(panel, pts, color){
  pts.forEach(p => {
    const r = svgEl('rect', {x:p[0]-3.2, y:p[1]-3.2, width:6.4, height:6.4, fill:'#fff', 'fill-opacity':.85, stroke:color, 'stroke-width':1.4});
    
    
  });
}
const boxG = [57,497,350,692];
const resG = drawBarrier('panel-g', boxG, [-0.256,7.256], [-0.098,1.5], barrierEnergySnc, '#e8698c');
drawSquares('panel-g', resG.pts, '#e8698c');
drawMolecule('panel-g', 244, 632.7, 12.33,
  [[238,619],[249,619],[259,621],[267,623],[277,625],[287,627],[297,630],[307,633]], [244,651],
  [[218,633],[249,643],[231,653]], [233,638], [231,636.5]);
drawAxes('panel-g', boxG, resG.s, gXTicks, gXLabels, gYTicks, gYLabels, [1,3,5,7], [0.25,0.75,1.25], 713);
const boxH = [413,496,707,691];
const resH = drawBarrier('panel-h', boxH, [-0.282,7.256], [-0.098,1.5], barrierEnergyNc, '#55b4d8');
drawSquares('panel-h', resH.pts, '#55b4d8');
drawMolecule('panel-h', 594, 629, 12.9,
  [[586,616],[597,617],[607,618],[618,619],[631,621],[640,623],[650,627],[660,629]], [596,649],
  [[568,629],[600,641],[580,652]], [584,635], [581,635.5]);
drawAxes('panel-h', boxH, resH.s, gXTicks, gXLabels, gYTicks, gYLabels, [1,3,5,7], [0.25,0.75,1.25], 713);

/* ---------- panel i ---------- */
const boxI = [770,497,1063,691];
const sI = scales(boxI, [0,100.2], [0,99.5]);
function drawNyquist(label, res, ims, color){
  const pts = points(res, ims, sI);
  const line = svgEl('path', {d:smoothPath(pts), fill:'none', stroke:color, 'stroke-width':1.5});
  
  
  pts.forEach(p => {
    const c = svgEl('circle', {cx:p[0], cy:p[1], r:3.6, fill:'none', stroke:color, 'stroke-width':1.3});
    
    
  });
}
drawNyquist('snc', nyquistReSnc, nyquistImSnc, '#ee6a8c');
drawNyquist('nc', nyquistReNc, nyquistImNc, '#55b4d8');
drawAxes('panel-i', boxI, sI, iTicks, iLabels, iTicks, iLabels, [20,60], [20,60], 710, '#444');

/* ---------- panels j k ---------- */
function colormap(v){
  let i = 0;
  while (i < colormapValues.length - 2 && v > colormapValues[i+1]) i++;
  const t = Math.max(0, Math.min(1, (v - colormapValues[i]) / (colormapValues[i+1] - colormapValues[i])));
  const mix = arr => Math.round(arr[i] + (arr[i+1]-arr[i])*t);
  return 'rgb(' + mix(colormapReds) + ',' + mix(colormapGreens) + ',' + mix(colormapBlues) + ')';
}
function gridValue(grid, colPos, rowPos){
  const cols = grid[0].length, rows = grid.length;
  const c = Math.max(0, Math.min(cols - 1.001, colPos)), r = Math.max(0, Math.min(rows - 1.001, rowPos));
  const c0 = Math.floor(c), r0 = Math.floor(r), fc = c - c0, fr = r - r0;
  const top = grid[r0][c0]*(1-fc) + grid[r0][c0+1]*fc;
  const bot = grid[r0+1][c0]*(1-fc) + grid[r0+1][c0+1]*fc;
  return top*(1-fr) + bot*fr;
}
function drawHeatmap(panel, box, clipId, grid){
  const s = scales(box, [1.6,2.8], [0,grid.length]);
  const clip = svgEl('g', {'clip-path':'url(#' + clipId + ')'});
  
  
  const blur = svgEl('g', {filter:'url(#heatBlur)'}, clip);
  const cellPx = 4;
  const colWidth = s.sx(heatmapColumnStart + heatmapColumnStep) - s.sx(heatmapColumnStart);
  const rowHeight = s.sy(0) - s.sy(1);
  for (let py = box[1] - 8; py < box[3] + 8; py += cellPx){
    for (let px = box[0] - 8; px < box[2] + 8; px += cellPx){
      const colPos = (px + cellPx/2 - box[0]) / colWidth - 0.5;
      const rowPos = (py + cellPx/2 - box[1]) / rowHeight - 0.5;
      const cell = svgEl('rect', {x:px, y:py, width:cellPx+.4, height:cellPx+.4, fill:colormap(gridValue(grid, colPos, rowPos))}, blur);
      
      
    }
  }
  return s;
}
const boxJ = [57,740,317,934];
const sJ = drawHeatmap('panel-j', boxJ, 'clipJ', heatmapJ);
drawAxes('panel-j', boxJ, {sx:sJ.sx, sy:sJ.sy}, jXTicks, jXLabels, [], [], [1.8,2.2,2.6], [], 953, '#7d96cc');
const boxK = [414,740,673,934];
const sK = drawHeatmap('panel-k', boxK, 'clipK', heatmapK);
drawAxes('panel-k', boxK, {sx:sK.sx, sy:sK.sy}, jXTicks, jXLabels, [], [], [1.8,2.2,2.6], [], 953, '#7d96cc');

/* ---------- panel l ---------- */
const boxL = [770,740,1063,934];
const sL = scales(boxL, [-0.49,2.5], [0,49.7]);
const valueLayer = document.getElementById('valueLabels');
function drawBars(label, values, texts, fill, offset){
  values.forEach((v,i) => {
    const x = sL.sx(i) + offset;
    const bar = svgEl('rect', {x:x, y:sL.sy(v), width:19, height:sL.sy(0)-sL.sy(v), fill:fill});
    
    
    const inside = v > 30;
    const anchorY = inside ? sL.sy(v) + (v > 40 ? 11 : 27) : sL.sy(v) - 3;
    const cx = x + 9.5 + 6;
    const t = svgEl('text', {x:cx, y:anchorY, 'font-size':17.5, 'text-anchor':inside ? 'end' : 'start', transform:'rotate(-90 ' + cx + ' ' + anchorY + ')'}, valueLayer);
    t.textContent = texts[i];
    
    
  });
}
drawBars('snc', diffusionSnc, diffusionSncLabels, 'url(#barPink)', -19.5);
drawBars('nc', diffusionNc, diffusionNcLabels, 'url(#barBlue)', 1.5);
drawAxes('panel-l', boxL, sL, [0,1,2], peakCategories, lYTicks, lYLabels, [0.5,1.5], [10,30], 953);
</script>
</body>
</html>
